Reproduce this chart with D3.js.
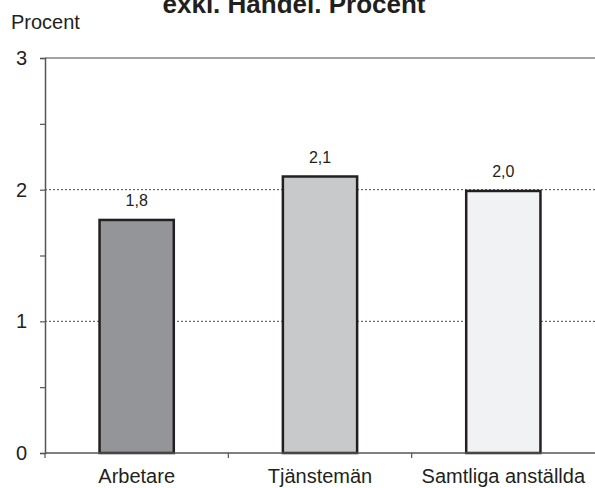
<!DOCTYPE html>
<html>
<head>
<meta charset="utf-8">
<script src="https://cdn.jsdelivr.net/npm/d3@7"></script>
<style>
  html, body { margin: 0; padding: 0; background: #fff; }
  svg { display: block; font-family: "Liberation Sans", Arial, Helvetica, sans-serif; }
</style>
</head>
<body>
<svg id="chart" width="595" height="488"></svg>
<script>
const categories = ["Arbetare", "Tjänstemän", "Samtliga anställda"];
const values = [1.77, 2.1, 1.99];
const barColors = ["#939598", "#c8c9cb", "#f1f2f3"];
const yTicks = [0, 1, 2, 3];
const yMinorTicks = [0.5, 1.5, 2.5];
const titleText = "exkl. Handel. Procent";
const yAxisTitle = "Procent";

const W = 595, H = 488;
const margin = { top: 58, right: 0, bottom: 35, left: 45 };
const svg = d3.select("#chart");

const x = d3.scaleBand().domain(categories).range([margin.left, W - margin.right]).padding(0);
const y = d3.scaleLinear().domain([0, 3]).range([H - margin.bottom, margin.top]);
const fmt = v => d3.format(".1f")(v).replace(".", ",");

// title (partially cut at top)
svg.append("text")
  .attr("x", 294).attr("y", 13)
  .attr("text-anchor", "middle")
  .attr("font-weight", "bold")
  .attr("font-size", 26)
  .attr("fill", "#231f20")
  .text(titleText);

svg.append("text")
  .attr("x", 11).attr("y", 29)
  .attr("font-size", 20)
  .attr("fill", "#231f20")
  .text(yAxisTitle);

// gridlines
svg.append("g").selectAll("line")
  .data(yTicks.filter(d => d > 0 && d < 3))
  .join("line")
  .attr("x1", margin.left).attr("x2", W)
  .attr("y1", d => y(d)).attr("y2", d => y(d))
  .attr("stroke", "#4a4a4a").attr("stroke-width", 1)
  .attr("stroke-dasharray", "2,2");

// top border line
svg.append("line")
  .attr("x1", margin.left).attr("x2", W)
  .attr("y1", y(3)).attr("y2", y(3))
  .attr("stroke", "#a3a3a3").attr("stroke-width", 2);

// y axis
const yAxis = d3.axisLeft(y).tickValues(yTicks).tickSize(5).tickPadding(13).tickFormat(d3.format("d"));
const gy = svg.append("g").attr("transform", `translate(${margin.left},0)`).call(yAxis);
gy.select(".domain").attr("stroke", "#555").attr("stroke-width", 1.5);
gy.selectAll(".tick line").attr("stroke", "#555").attr("stroke-width", 1.2);
gy.selectAll(".tick text").attr("font-size", 20).attr("fill", "#231f20").attr("font-family", "Liberation Sans, Arial, sans-serif");

const yMinor = d3.axisLeft(y).tickValues(yMinorTicks).tickSize(5).tickFormat("");
const gym = svg.append("g").attr("transform", `translate(${margin.left},0)`).call(yMinor);
gym.select(".domain").remove();
gym.selectAll(".tick line").attr("stroke", "#555").attr("stroke-width", 1.2);

// bars
const bw = x.bandwidth() * 0.405;
svg.append("g").selectAll("rect")
  .data(values)
  .join("rect")
  .attr("x", (d, i) => x(categories[i]) + (x.bandwidth() - bw) / 2)
  .attr("y", d => y(d))
  .attr("width", bw)
  .attr("height", d => y(0) - y(d))
  .attr("fill", (d, i) => barColors[i])
  .attr("stroke", "#231f20")
  .attr("stroke-width", 2.5);

// value labels
svg.append("g").selectAll("text")
  .data(values)
  .join("text")
  .attr("x", (d, i) => x(categories[i]) + x.bandwidth() / 2)
  .attr("y", d => y(d) - 14)
  .attr("text-anchor", "middle")
  .attr("font-size", 16)
  .attr("fill", "#231f20")
  .text(d => fmt(d));

// x axis
svg.append("line")
  .attr("x1", margin.left).attr("x2", W)
  .attr("y1", y(0)).attr("y2", y(0))
  .attr("stroke", "#555").attr("stroke-width", 1.5);

const boundaries = categories.map(c => x(c));
svg.append("g").selectAll("line")
  .data(boundaries)
  .join("line")
  .attr("x1", d => d).attr("x2", d => d)
  .attr("y1", y(0)).attr("y2", y(0) + 5)
  .attr("stroke", "#555").attr("stroke-width", 1.2);

svg.append("g").selectAll("text")
  .data(categories)
  .join("text")
  .attr("x", d => x(d) + x.bandwidth() / 2)
  .attr("y", y(0) + 30)
  .attr("text-anchor", "middle")
  .attr("font-size", 20)
  .attr("fill", "#231f20")
  .text(d => d);
</script>
</body>
</html>
